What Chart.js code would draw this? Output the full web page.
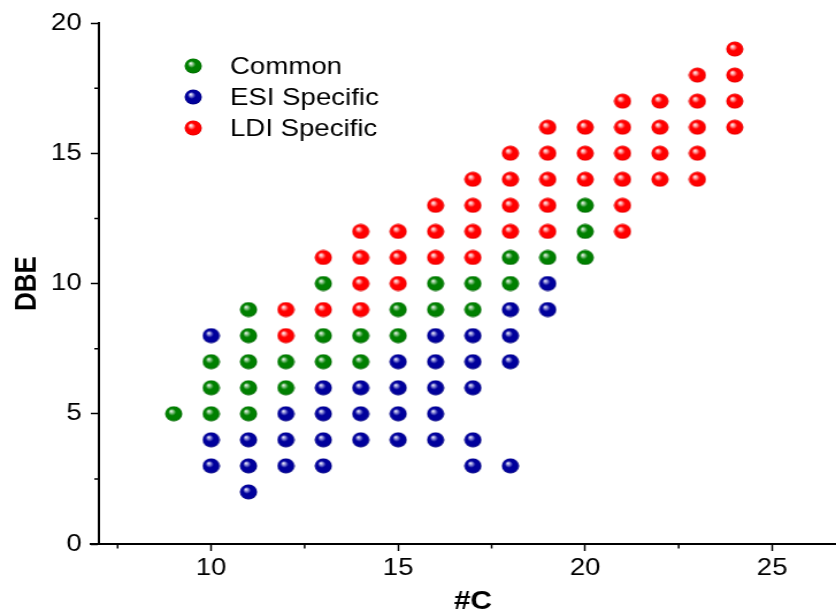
<!DOCTYPE html>
<html>
<head>
<meta charset="utf-8">
<script src="https://cdn.jsdelivr.net/npm/chart.js@4/dist/chart.umd.min.js"></script>
<style>
  html, body { margin: 0; padding: 0; background: #fff; overflow: hidden; }
  #wrap { width: 727px; height: 613px; overflow: hidden; transform: scaleX(1.15); transform-origin: 0 0; }
</style>
</head>
<body>
<div id="wrap"><canvas id="myChart" width="745" height="613"></canvas></div>
<script>
// Dados: #C e DBE de cada grupo
const commonC   = [9, 10, 10, 10, 11, 11, 11, 11, 11, 12, 12, 13, 13, 13, 14, 14, 15, 15, 16, 16, 17, 17, 18, 18, 19, 20, 20, 20];
const commonDBE = [5, 5, 6, 7, 5, 6, 7, 8, 9, 6, 7, 7, 8, 10, 7, 8, 8, 9, 9, 10, 9, 10, 10, 11, 11, 11, 12, 13];

const esiC   = [10, 10, 10, 11, 11, 11, 12, 12, 12, 13, 13, 13, 13, 14, 14, 14, 15, 15, 15, 15, 16, 16, 16, 16, 16, 17, 17, 17, 17, 17, 18, 18, 18, 18, 19, 19];
const esiDBE = [3, 4, 8, 2, 3, 4, 3, 4, 5, 3, 4, 5, 6, 4, 5, 6, 4, 5, 6, 7, 4, 5, 6, 7, 8, 3, 4, 6, 7, 8, 3, 7, 8, 9, 9, 10];

const ldiC   = [12, 12, 13, 13, 14, 14, 14, 14, 15, 15, 15, 16, 16, 16, 17, 17, 17, 17, 18, 18, 18, 18, 19, 19, 19, 19, 19, 20, 20, 20, 21, 21, 21, 21, 21, 21, 22, 22, 22, 22, 23, 23, 23, 23, 23, 24, 24, 24, 24];
const ldiDBE = [8, 9, 9, 11, 9, 10, 11, 12, 10, 11, 12, 11, 12, 13, 11, 12, 13, 14, 12, 13, 14, 15, 12, 13, 14, 15, 16, 14, 15, 16, 12, 13, 14, 15, 16, 17, 14, 15, 16, 17, 14, 15, 16, 17, 18, 16, 17, 18, 19];

const seriesLabels = ['Common', 'ESI Specific', 'LDI Specific'];
const xTicks = [10, 15, 20, 25];
const yTicks = [0, 5, 10, 15, 20];
const xMinor = [7.5, 12.5, 17.5, 22.5];
const yMinor = [2.5, 7.5, 12.5, 17.5];

const fonte = '"Liberation Sans", Arial, sans-serif';

// bolinha com brilho (esfera)
function bola(cores) {
    const c = document.createElement('canvas');
    c.width = 16; c.height = 16;
    const g = c.getContext('2d');
    const grad = g.createRadialGradient(5.6, 5.2, 0, 8, 8, 7.6);
    grad.addColorStop(0, '#ffffff');
    grad.addColorStop(0.18, cores[0]);
    grad.addColorStop(0.45, cores[1]);
    grad.addColorStop(0.85, cores[1]);
    grad.addColorStop(1, cores[2]);
    g.fillStyle = grad;
    g.beginPath();
    g.arc(8, 8, 7.5, 0, Math.PI * 2);
    g.fill();
    return c;
}

const bolas = [
    bola(['#9fd09f', '#008000', '#006400']),
    bola(['#9f9fe0', '#00009c', '#00007a']),
    bola(['#ffb0b0', '#ff0000', '#dd0000'])
];

const pontos = (xs, ys) => xs.map((v, i) => ({ x: v, y: ys[i] }));

const data = {
    datasets: [
        { label: seriesLabels[0], data: pontos(commonC, commonDBE), pointStyle: bolas[0], pointRadius: 7.5 },
        { label: seriesLabels[1], data: pontos(esiC, esiDBE), pointStyle: bolas[1], pointRadius: 7.5 },
        { label: seriesLabels[2], data: pontos(ldiC, ldiDBE), pointStyle: bolas[2], pointRadius: 7.5 }
    ]
};

// legenda desenhada à mão + ticks menores
const extras = {
    id: 'extras',
    afterDraw(chart) {
        const ctx = chart.ctx;
        const { x, y } = chart.scales;
        const area = chart.chartArea;
        ctx.save();
        ctx.strokeStyle = '#000';
        ctx.lineWidth = 1.5;
        ctx.beginPath();
        xMinor.forEach(v => {
            const px = x.getPixelForValue(v);
            ctx.moveTo(px, area.bottom);
            ctx.lineTo(px, area.bottom + 4.5);
        });
        yMinor.forEach(v => {
            const py = y.getPixelForValue(v);
            ctx.moveTo(area.left - 4, py);
            ctx.lineTo(area.left, py);
        });
        ctx.stroke();
        ctx.lineWidth = 2;
        ctx.beginPath();
        ctx.moveTo(area.left - 8, area.bottom);
        ctx.lineTo(area.left, area.bottom);
        ctx.stroke();

        ctx.font = '24px ' + fonte;
        ctx.fillStyle = '#000';
        ctx.textBaseline = 'middle';
        chart.data.datasets.forEach((ds, i) => {
            const ly = 66 + i * 31;
            ctx.drawImage(ds.pointStyle, 168 - 8, ly - 8);
            ctx.fillText(ds.label, 200, ly + 1);
        });
        ctx.restore();
    }
};

const config = {
    type: 'scatter',
    data: data,
    options: {
        responsive: false,
        animation: false,
        devicePixelRatio: 1,
        layout: { padding: { top: 23, left: 0, right: 0, bottom: 0 } },
        scales: {
            x: {
                type: 'linear',
                position: 'bottom',
                min: 7,
                max: 27,
                afterBuildTicks: s => { s.ticks = xTicks.map(v => ({ value: v })); },
                afterFit: s => { s.height = 69; },
                ticks: { color: '#000', padding: 3, font: { size: 24, family: fonte } },
                grid: { drawOnChartArea: false, drawTicks: true, tickLength: 7, tickColor: '#000', tickWidth: 1.5 },
                border: { display: true, color: '#000', width: 2 },
                title: { display: true, text: '#C', color: '#000', padding: { top: 0, bottom: -4 }, font: { size: 26, weight: 'bold', family: fonte } }
            },
            y: {
                min: 0,
                max: 20,
                afterBuildTicks: s => { s.ticks = yTicks.map(v => ({ value: v })); },
                afterFit: s => { s.width = 86; },
                ticks: { color: '#000', padding: 8, font: { size: 24, family: fonte } },
                grid: { drawOnChartArea: false, drawTicks: true, tickLength: 7, tickColor: '#000', tickWidth: 1.5 },
                border: { display: true, color: '#000', width: 2 },
                title: { display: true, text: 'DBE', color: '#000', padding: { top: 8, bottom: 0 }, font: { size: 26, weight: 'bold', family: fonte } }
            }
        },
        plugins: {
            legend: { display: false },
            tooltip: { enabled: false }
        }
    },
    plugins: [extras]
};

new Chart(document.getElementById('myChart').getContext('2d'), config);
</script>
</body>
</html>
